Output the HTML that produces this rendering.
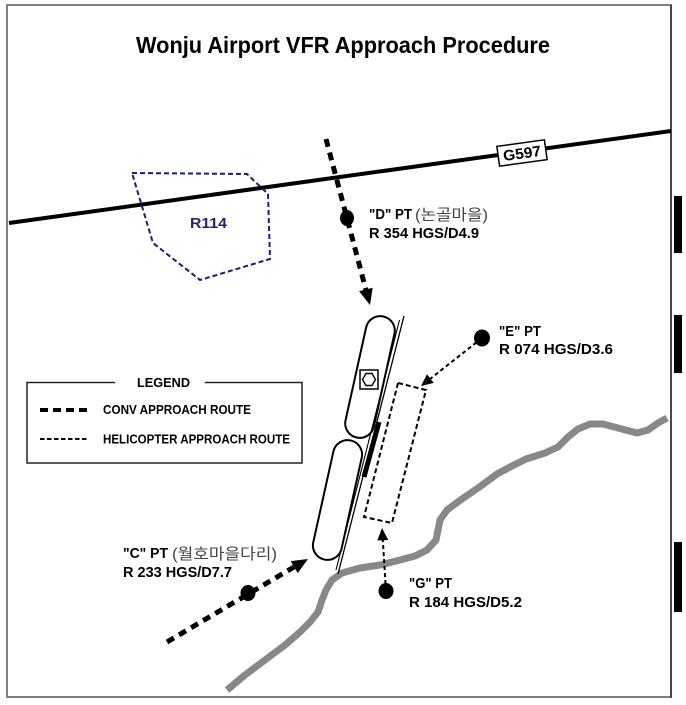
<!DOCTYPE html>
<html><head><meta charset="utf-8"><style>
html,body{margin:0;padding:0;background:#fff;}
svg{display:block;}
text{font-family:"Liberation Sans","Noto Sans CJK KR",sans-serif;}
.b{font-weight:bold;fill:#000;}
.k{font-family:"Liberation Sans","Noto Sans CJK KR",sans-serif;font-weight:normal;fill:#444;}
</style></head><body>
<svg width="686" height="705" viewBox="0 0 686 705" xmlns="http://www.w3.org/2000/svg">
<rect x="0" y="0" width="686" height="705" fill="#fff"/>
<!-- frame -->
<rect x="7" y="5" width="664" height="692" fill="none" stroke="#808080" stroke-width="2"/>
<line x1="671" y1="5" x2="671" y2="698" stroke="#222" stroke-width="1.2"/>
<!-- right bars -->
<rect x="674" y="196" width="8" height="57" fill="#000"/>
<rect x="674" y="315" width="8" height="58" fill="#000"/>
<rect x="674" y="542" width="8" height="70" fill="#000"/>

<!-- title -->
<text x="136" y="53" class="b" font-size="23.5" textLength="414" lengthAdjust="spacingAndGlyphs">Wonju Airport VFR Approach Procedure</text>

<!-- river -->
<polyline fill="none" stroke="#888" stroke-width="7" stroke-linejoin="round" stroke-linecap="butt"
points="227,690 245,675 265,660 285,645 300,632 310,622 318,612 322,600 326,590 332,580 342,573 360,568 380,565 400,560 415,556 427,550 436,540 438,530 440,520 447,510 462,499 478,488 497,474 512,466 526,459 545,453 558,447 568,437 578,429 590,424 603,424 618,428 637,433 648,430 658,423 667,418"/>

<!-- airway line -->
<line x1="9" y1="223" x2="671" y2="131" stroke="#000" stroke-width="4"/>
<!-- G597 box -->
<g transform="translate(522,153) rotate(-7.9)">
<rect x="-24" y="-10" width="48" height="20" fill="#fff" stroke="#000" stroke-width="1.5"/>
<text x="0" y="5.5" class="b" font-size="15" text-anchor="middle" textLength="38" lengthAdjust="spacingAndGlyphs">G597</text>
</g>

<!-- R114 polygon -->
<polygon points="132,173 247,174 268,194 270,259 200,280 153,243" fill="none" stroke="#1c1c70" stroke-width="2" stroke-dasharray="5,3"/>
<text x="190" y="228" font-weight="bold" font-size="15" fill="#23236e" textLength="37" lengthAdjust="spacingAndGlyphs">R114</text>

<!-- runways -->
<g fill="none" stroke="#000" stroke-width="2">
<rect x="-14.5" y="-62" width="29" height="124" rx="14.5" ry="14.5" transform="translate(370,377) rotate(12.5)"/>
<rect x="-14.5" y="-61" width="29" height="122" rx="14.5" ry="14.5" transform="translate(337.5,500) rotate(12.5)"/>
</g>
<line x1="404" y1="316" x2="338" y2="574" stroke="#000" stroke-width="1.3"/>
<line x1="399.5" y1="320" x2="336" y2="570" stroke="#000" stroke-width="1.1"/>
<line x1="379" y1="422" x2="364" y2="477" stroke="#000" stroke-width="5"/>
<!-- heliport symbol -->
<rect x="360" y="370" width="18" height="19" fill="#fff" stroke="#000" stroke-width="1.5"/>
<polygon points="362.5,379.5 366,373.5 372,373.5 375.5,379.5 372,385.5 366,385.5" fill="#fff" stroke="#000" stroke-width="1.4"/>

<!-- helicopter rect -->
<polygon points="398,383 426,390 392,523 364,517" fill="none" stroke="#000" stroke-width="2" stroke-dasharray="5,3"/>

<!-- D route -->
<line x1="326" y1="139" x2="366" y2="290" stroke="#000" stroke-width="5" stroke-dasharray="8,6"/>
<polygon points="370,305 359.1,291.3 372.7,287.7" fill="#000"/>
<ellipse cx="347" cy="218" rx="7" ry="8" fill="#000"/>

<!-- C route -->
<line x1="167" y1="642" x2="294" y2="567" stroke="#000" stroke-width="5" stroke-dasharray="8,6"/>
<polygon points="308,559 297.7,573.1 290.7,561.1" fill="#000"/>
<ellipse cx="248" cy="593" rx="7.5" ry="8" fill="#000"/>

<!-- E route -->
<line x1="482" y1="338" x2="430" y2="379" stroke="#000" stroke-width="2" stroke-dasharray="4,3"/>
<polygon points="421,386 427,374.3 433.8,382.9" fill="#000"/>
<ellipse cx="482" cy="338" rx="8" ry="8.5" fill="#000"/>

<!-- G route -->
<line x1="386" y1="591" x2="382.8" y2="540" stroke="#000" stroke-width="2" stroke-dasharray="4,3"/>
<polygon points="382,528 388.3,540 377.3,540.5" fill="#000"/>
<ellipse cx="386" cy="591" rx="7.5" ry="8" fill="#000"/>

<!-- labels -->
<text x="369" y="219" class="b" font-size="15" textLength="43" lengthAdjust="spacingAndGlyphs">"D" PT</text>
<text x="415" y="220" class="k" font-size="15.5" textLength="73" lengthAdjust="spacingAndGlyphs">(논골마을)</text>
<text x="369" y="238" class="b" font-size="15" textLength="110" lengthAdjust="spacingAndGlyphs">R 354 HGS/D4.9</text>

<text x="499" y="336" class="b" font-size="15" textLength="42" lengthAdjust="spacingAndGlyphs">"E" PT</text>
<text x="499" y="354" class="b" font-size="15" textLength="114" lengthAdjust="spacingAndGlyphs">R 074 HGS/D3.6</text>

<text x="409" y="588" class="b" font-size="15" textLength="43" lengthAdjust="spacingAndGlyphs">"G" PT</text>
<text x="409" y="607" class="b" font-size="15" textLength="113" lengthAdjust="spacingAndGlyphs">R 184 HGS/D5.2</text>

<text x="123" y="558" class="b" font-size="15" textLength="45" lengthAdjust="spacingAndGlyphs">"C" PT</text>
<text x="172" y="559" class="k" font-size="15.5" textLength="105" lengthAdjust="spacingAndGlyphs">(월호마을다리)</text>
<text x="123" y="577" class="b" font-size="15" textLength="109" lengthAdjust="spacingAndGlyphs">R 233 HGS/D7.7</text>

<!-- legend -->
<g stroke="#222" stroke-width="1.5" fill="none">
<polyline points="115,382.5 27,382.5 27,463 302,463 302,382.5 205,382.5"/>
</g>
<text x="137" y="387" class="b" font-size="13" textLength="53" lengthAdjust="spacingAndGlyphs">LEGEND</text>
<line x1="40" y1="410" x2="87" y2="410" stroke="#000" stroke-width="4" stroke-dasharray="8,5"/>
<line x1="40" y1="439" x2="86.5" y2="439" stroke="#000" stroke-width="2" stroke-dasharray="4.5,2.5"/>
<text x="103" y="414" class="b" font-size="13" textLength="148" lengthAdjust="spacingAndGlyphs">CONV APPROACH ROUTE</text>
<text x="103" y="443.5" class="b" font-size="13" textLength="187" lengthAdjust="spacingAndGlyphs">HELICOPTER APPROACH ROUTE</text>
</svg>
</body></html>
